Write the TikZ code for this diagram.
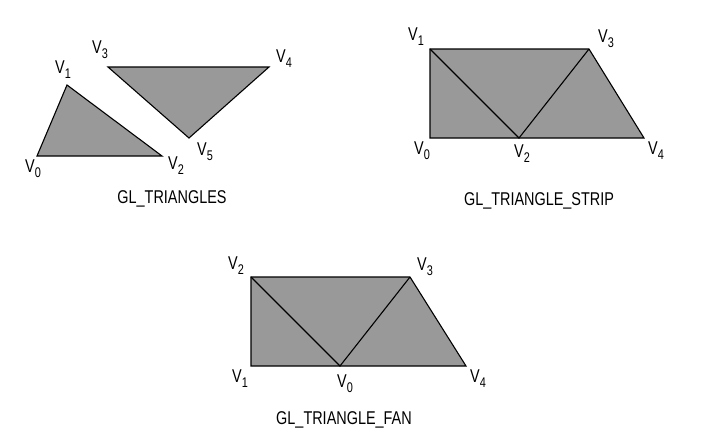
\documentclass[tikz,border=0pt]{standalone}
\usepackage{fontspec}
\setmainfont[FakeStretch=0.78]{Liberation Sans}
\begin{document}
\begin{tikzpicture}[x=1pt,y=-1pt,
  face/.style={fill=black!40,draw=black,line width=1.1pt,line join=miter},
  edge/.style={draw=black,line width=1.1pt},
  vlab/.style={inner sep=0pt,font=\fontsize{18.5}{18.5}\selectfont},
  title/.style={inner sep=0pt,font=\fontsize{18.5}{18.5}\selectfont}]
\newcommand{\vx}[1]{V\raisebox{-5pt}{\fontsize{14}{14}\selectfont #1}}
\useasboundingbox (0,0) rectangle (718,442);
% GL_TRIANGLES
\coordinate (a0) at (37,156);
\coordinate (a1) at (67,85);
\coordinate (a2) at (162,156);
\coordinate (a3) at (108,67);
\coordinate (a4) at (269,67);
\coordinate (a5) at (189,138);
\path[face] (a0) -- (a1) -- (a2) -- cycle;
\path[face] (a3) -- (a4) -- (a5) -- cycle;
\node[vlab] (la0) at (33,169) {\vx{0}};
\node[vlab] (la1) at (63,70) {\vx{1}};
\node[vlab] (la2) at (176,166) {\vx{2}};
\node[vlab] (la3) at (100,50) {\vx{3}};
\node[vlab] (la4) at (284,59) {\vx{4}};
\node[vlab] (la5) at (205,152) {\vx{5}};
\node[title] (t1) at (172,199) {GL\_TRIANGLES};
% GL_TRIANGLE_STRIP
\coordinate (b0) at (430,138);
\coordinate (b1) at (430,49);
\coordinate (b2) at (519,138);
\coordinate (b3) at (589,49);
\coordinate (b4) at (644,138);
\path[face] (b0) -- (b1) -- (b3) -- (b4) -- cycle;
\draw[edge] (b1) -- (b2) -- (b3);
\node[vlab] (lb0) at (422,151) {\vx{0}};
\node[vlab] (lb1) at (416,37) {\vx{1}};
\node[vlab] (lb2) at (522,154) {\vx{2}};
\node[vlab] (lb3) at (606,39) {\vx{3}};
\node[vlab] (lb4) at (656,151) {\vx{4}};
\node[title] (t2) at (539,201) {GL\_TRIANGLE\_STRIP};
% GL_TRIANGLE_FAN
\coordinate (c0) at (340,366);
\coordinate (c1) at (251,366);
\coordinate (c2) at (251,277);
\coordinate (c3) at (410,277);
\coordinate (c4) at (466,366);
\path[face] (c1) -- (c2) -- (c3) -- (c4) -- cycle;
\draw[edge] (c2) -- (c0) -- (c3);
\node[vlab] (lc0) at (345,384) {\vx{0}};
\node[vlab] (lc1) at (240,379) {\vx{1}};
\node[vlab] (lc2) at (236,266) {\vx{2}};
\node[vlab] (lc3) at (425,267) {\vx{3}};
\node[vlab] (lc4) at (478,379) {\vx{4}};
\node[title] (t3) at (344,420) {GL\_TRIANGLE\_FAN};
\end{tikzpicture}
\end{document}
